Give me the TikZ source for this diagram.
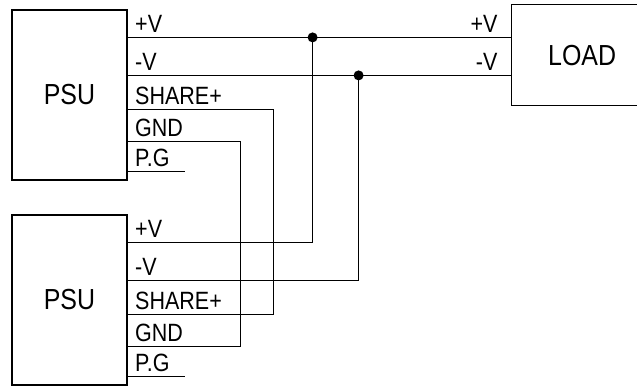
\documentclass[tikz,border=0pt]{standalone}
\usepackage{fontspec}
\setmainfont{Liberation Sans}[FakeStretch=0.86]
\usetikzlibrary{positioning,calc}

\tikzset{
  unit/.style={draw,minimum width=115pt,minimum height=170pt,inner sep=0pt,font=\fontsize{29}{30}\selectfont},
  pinlabel/.style={anchor=base west,inner sep=0pt,font=\fontsize{25}{26}\selectfont},
  joint/.style={circle,fill,inner sep=0pt,minimum size=10pt},
}

\begin{document}
\begin{tikzpicture}[x=1pt,y=-1pt,line width=1.2pt]
  \useasboundingbox (0,0) rectangle (637,388);
  \node[unit] (psuA) at (69.5,95) {PSU};
  \node[unit] (psuB) at (69.5,300) {PSU};
  \node[unit,minimum width=141pt,minimum height=101pt,anchor=north west] (load) at (511,4) {LOAD};
  % pins of both supplies
  \foreach \u in {psuA,psuB}{
    \foreach \p/\dy/\t in {PV/28/+V,NV/66/-V,SH/100/SHARE+,GN/132/GND,PG/162/P.G}{
      \coordinate (\u\p) at ([yshift=-\dy pt]\u.north east);
      \node[pinlabel] (\u\p l) at ([shift={(7pt,5pt)}]\u\p) {\t};
    }
    \draw (\u PG) -- ++(57,0);
  }
  % load side
  \coordinate (loadPV) at (load.west |- psuAPV);
  \coordinate (loadNV) at (load.west |- psuANV);
  \node[pinlabel,anchor=base east] (loadPVl) at ([shift={(-13pt,5pt)}]loadPV) {+V};
  \node[pinlabel,anchor=base east] (loadNVl) at ([shift={(-13pt,5pt)}]loadNV) {-V};
  \node[joint] (jP) at ($(psuAPV)+(185,0)$) {};
  \node[joint] (jN) at ($(psuANV)+(231,0)$) {};
  \draw (psuAPV) -- (loadPV);
  \draw (psuANV) -- (loadNV);
  \draw (psuBPV) -| (jP.center);
  \draw (psuBNV) -| (jN.center);
  \draw (psuASH) -- ++(146,0) |- (psuBSH);
  \draw (psuAGN) -- ++(113,0) |- (psuBGN);
\end{tikzpicture}
\end{document}
